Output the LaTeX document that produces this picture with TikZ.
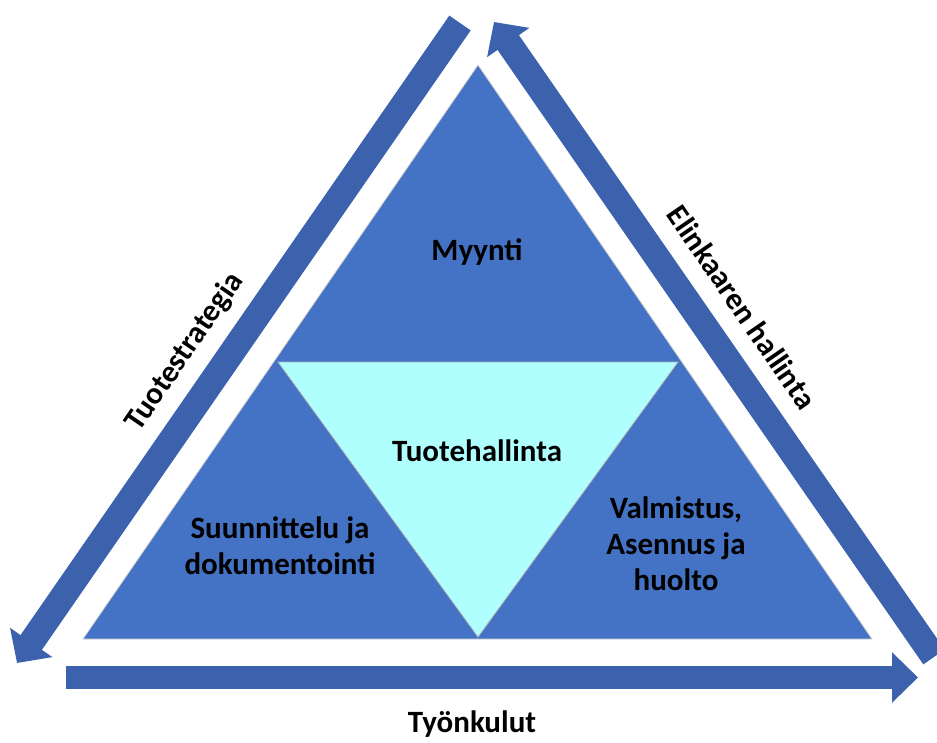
\documentclass[tikz,border=0pt]{standalone}
\usepackage{fontspec}
\setmainfont{Carlito}
\usepackage{xcolor}
\usetikzlibrary{arrows.meta,calc}
\definecolor{triblue}{HTML}{4472C4}
\definecolor{arrblue}{HTML}{3D62AD}
\definecolor{tricyan}{HTML}{AFFFFF}

\begin{document}
\begin{tikzpicture}[x=1pt,y=-1pt,
  lbl/.style={align=center,font=\fontsize{31}{36}\selectfont\bfseries,inner sep=0pt},
  flow/.style={arrblue,line width=26pt,-{Triangle[length=25pt,width=50pt]}},
  flowb/.style={arrblue,line width=23pt,-{Triangle[length=26pt,width=49pt]}}]
  \useasboundingbox (0,0) rectangle (937,743);
  % main triangle
  \coordinate (top) at (478,65);
  \coordinate (bl) at (83,639);
  \coordinate (br) at (872,639);
  \coordinate (ml) at (278,362);
  \coordinate (mr) at (678,362);
  \coordinate (mb) at (478,637);
  \fill[triblue,draw=gray!35,line width=0.8pt] (top) -- (br) -- (bl) -- cycle;
  \fill[tricyan,draw=gray!60,line width=0.8pt] (ml) -- (mr) -- (mb) -- cycle;
  \node[lbl] (myynti) at (477,252) {Myynti};
  \node[lbl] (hallinta) at (477,451) {Tuotehallinta};
  \node[lbl] (suunn) at (280,546) {Suunnittelu ja\\dokumentointi};
  \node[lbl] (valm) at (676,544) {Valmistus,\\Asennus ja\\huolto};
  % arrows round the triangle
  \coordinate (la) at (460,23);
  \coordinate (lb) at (17,663);
  \coordinate (ra) at (934,657);
  \coordinate (rb) at (494,22);
  \coordinate (ba) at (66,677.5);
  \coordinate (bb) at (918,677.5);
  \foreach \a/\b in {la/lb,ra/rb} \draw[flow] (\a) -- (\b);
  \draw[flowb] (ba) -- (bb);
  \node[lbl,rotate=55.5] (strat) at (185,352) {Tuotestrategia};
  \node[lbl,rotate=-55.5] (elin) at (742,307) {Elinkaaren hallinta};
  \node[lbl] (tyon) at (472,724) {Työnkulut};
\end{tikzpicture}
\end{document}
